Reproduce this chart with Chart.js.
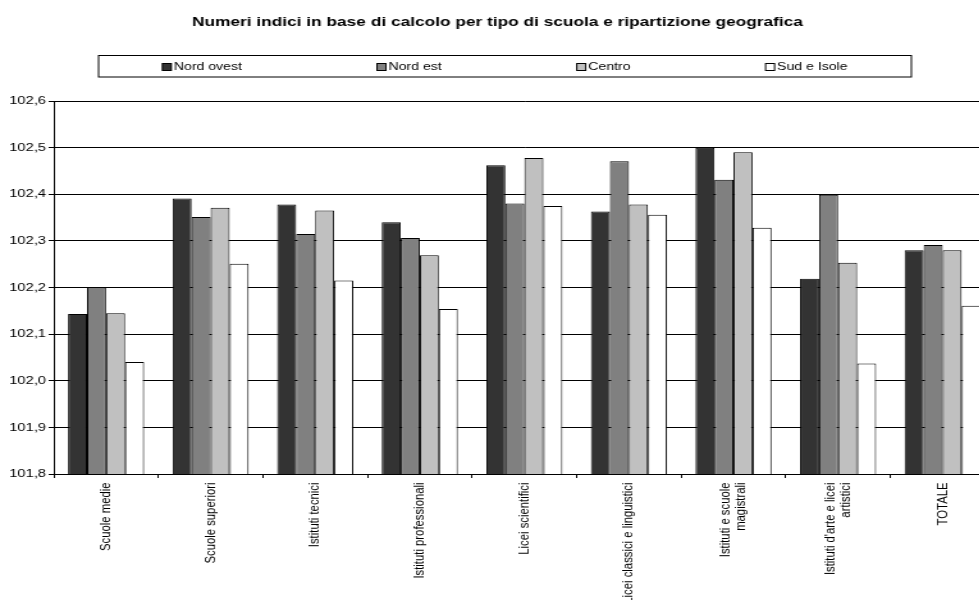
<!DOCTYPE html>
<html>
<head>
<meta charset="utf-8">
<script src="https://cdn.jsdelivr.net/npm/chart.js@4/dist/chart.umd.min.js"></script>
<style>
  html, body { margin: 0; padding: 0; background: #fff; overflow: hidden; }
  #page { width: 979px; height: 600px; overflow: hidden; position: relative; }
  /* the chart is laid out narrow and widened horizontally, like the original export */
  #wrap { width: 782px; height: 600px; transform: scaleX(1.28); transform-origin: 0 0; }
</style>
</head>
<body>
<div id="page"><div id="wrap"><canvas id="c"></canvas></div></div>
<script>
const categories = [
  'Scuole medie',
  'Scuole superiori',
  'Istituti tecnici',
  'Istituti professionali',
  'Licei scientifici',
  'Licei classici e linguistici',
  ['Istituti e scuole', 'magistrali'],
  ["Istituti d'arte e licei", 'artistici'],
  'TOTALE'
];

const seriesNames = ['Nord ovest', 'Nord est', 'Centro', 'Sud e Isole'];

const nordOvest = [102.143, 102.391, 102.378, 102.340, 102.462, 102.363, 102.500, 102.219, 102.280];
const nordEst   = [102.200, 102.351, 102.315, 102.306, 102.380, 102.471, 102.431, 102.399, 102.291];
const centro    = [102.145, 102.371, 102.365, 102.269, 102.478, 102.378, 102.490, 102.253, 102.280];
const sudIsole  = [102.040, 102.251, 102.215, 102.154, 102.375, 102.356, 102.328, 102.037, 102.161];

const yMin = 101.8, yMax = 102.6, yStep = 0.1;

const FONT = '"Liberation Sans", Arial, sans-serif';
const fills = ['#333333', '#808080', '#c0c0c0', '#ffffff'];

// Boxed legend above the plot: entries in a row with equal gaps, centred in the box
const boxedLegend = {
  id: 'boxedLegend',
  afterDraw(chart) {
    const ctx = chart.ctx;
    const left = 77, right = 712, top = 55.5, bottom = 77;
    ctx.save();
    ctx.strokeStyle = '#000';
    ctx.lineWidth = 1;
    ctx.strokeRect(left, top, right - left, bottom - top);
    const sets = chart.data.datasets;
    const sq = 7, gap = 2, between = 105.5, cy = 67;
    ctx.font = '11px ' + FONT;
    ctx.textBaseline = 'middle';
    ctx.textAlign = 'left';
    const widths = sets.map(ds => sq + gap + ctx.measureText(ds.label).width);
    const total = widths.reduce((a, b) => a + b, 0) + between * (sets.length - 1);
    let x0 = (left + right) / 2 - total / 2;
    sets.forEach((ds, i) => {
      ctx.fillStyle = ds.backgroundColor;
      ctx.fillRect(x0, cy - sq / 2, sq, sq);
      ctx.strokeStyle = '#000';
      ctx.strokeRect(x0, cy - sq / 2, sq, sq);
      ctx.fillStyle = '#000';
      ctx.fillText(ds.label, x0 + sq + gap, cy);
      x0 += widths[i] + between;
    });
    ctx.restore();
  }
};

// Vertical category names under the axis, multi-line names centred on their tick
const verticalCategoryLabels = {
  id: 'verticalCategoryLabels',
  afterDraw(chart) {
    const xs = chart.scales.x;
    const ctx = chart.ctx;
    const lh = 11.7;
    ctx.save();
    ctx.font = '11.3px ' + FONT;
    ctx.fillStyle = '#000';
    ctx.textAlign = 'right';
    ctx.textBaseline = 'middle';
    categories.forEach((lab, i) => {
      const lines = Array.isArray(lab) ? lab : [lab];
      ctx.save();
      ctx.translate(xs.getPixelForValue(i), xs.top + 8.5);
      ctx.rotate(-Math.PI / 2);
      lines.forEach((ln, j) => ctx.fillText(ln, 0, (j - (lines.length - 1) / 2) * lh));
      ctx.restore();
    });
    ctx.restore();
  }
};

const values = [nordOvest, nordEst, centro, sudIsole];

new Chart(document.getElementById('c'), {
  type: 'bar',
  data: {
    labels: categories.map(c => Array.isArray(c) ? c.join(' ') : c),
    datasets: seriesNames.map((name, i) => ({
      label: name,
      data: values[i],
      backgroundColor: fills[i],
      borderColor: '#000',
      borderWidth: 1,
      borderSkipped: false,
      categoryPercentage: 4 / 5.5,
      barPercentage: 1
    }))
  },
  options: {
    responsive: true,
    maintainAspectRatio: false,
    animation: false,
    devicePixelRatio: 1,
    layout: { padding: { left: 0, right: 4.7, top: 0, bottom: 0 } },
    plugins: {
      legend: { display: false },
      tooltip: { enabled: false },
      title: {
        display: true,
        text: 'Numeri indici in base di calcolo per tipo di scuola e ripartizione geografica',
        color: '#000',
        font: { family: FONT, size: 13.5, weight: 'bold', lineHeight: 1.2 },
        padding: { top: 14, bottom: 70.8 }
      }
    },
    scales: {
      x: {
        grid: { drawOnChartArea: false, drawTicks: true, tickLength: 4, color: '#000', offset: true },
        border: { display: true, color: '#000', width: 1 },
        ticks: { display: false },
        afterFit(scale) { scale.height = 126; }
      },
      y: {
        min: yMin,
        max: yMax,
        grid: { color: '#000', lineWidth: 1, drawTicks: true, tickLength: 4 },
        border: { display: true, color: '#000', width: 1 },
        ticks: {
          stepSize: yStep,
          padding: 2,
          color: '#000',
          font: { family: FONT, size: 11.5 },
          callback: v => Number(v).toFixed(1).replace('.', ',')
        },
        afterFit(scale) { scale.width = 42; }
      }
    }
  },
  plugins: [boxedLegend, verticalCategoryLabels]
});
</script>
</body>
</html>
